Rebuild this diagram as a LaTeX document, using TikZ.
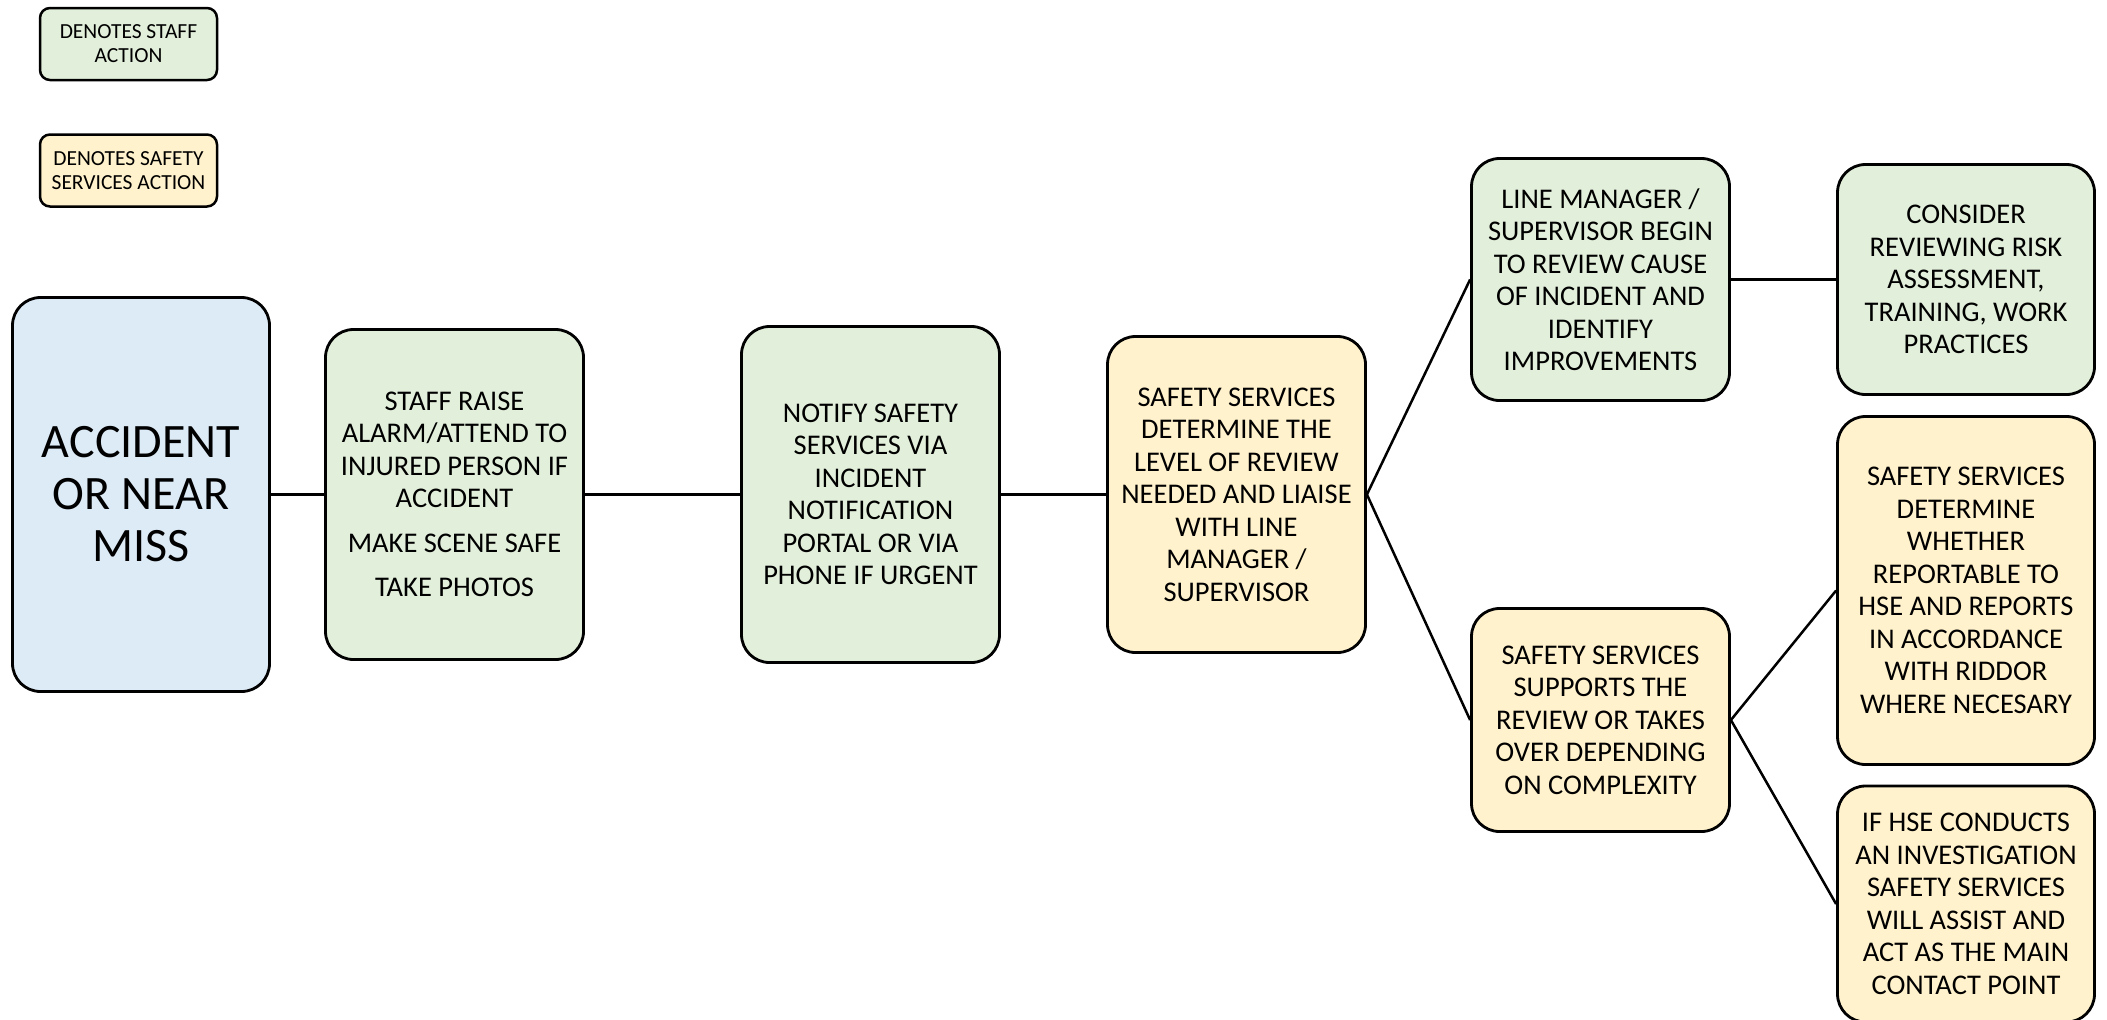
\documentclass[tikz,border=0pt]{standalone}
\usepackage{fontspec}
\setmainfont{Carlito}
\definecolor{gfill}{HTML}{E2EFDA}
\definecolor{yfill}{HTML}{FFF2CC}
\definecolor{bfill}{HTML}{DDEBF7}
\tikzset{
  box/.style={draw=black, line width=2.8pt, rounded corners=28pt, align=center, inner sep=0pt,
    font=\fontsize{28.5}{32.5}\selectfont},
  staffbox/.style={box, fill=gfill},
  safebox/.style={box, fill=yfill},
  legbox/.style={draw=black, line width=2.5pt, rounded corners=10pt, align=center, inner sep=0pt,
    font=\fontsize{21.5}{24}\selectfont},
  conn/.style={draw=black, line width=2.5pt}
}
\begin{document}
\begin{tikzpicture}[x=1pt,y=-1pt]
\useasboundingbox (0,0) rectangle (2107,1020);
\node[legbox, fill=gfill, minimum width=177pt, minimum height=72pt] (leg1) at (128.5,44) {DENOTES STAFF\\ACTION};
\node[legbox, fill=yfill, minimum width=177pt, minimum height=72pt] (leg2) at (128.5,170.5) {DENOTES SAFETY\\SERVICES ACTION};

\node[box, fill=bfill, minimum width=257pt, minimum height=394pt, font=\fontsize{48}{52}\selectfont] (acc) at (141,494.5) {ACCIDENT\\OR NEAR\\MISS};
\node[staffbox, minimum width=258pt, minimum height=330pt] (staff) at (454.5,494.5)
  {STAFF RAISE\\ALARM/ATTEND TO\\INJURED PERSON IF\\ACCIDENT\\[12pt]MAKE SCENE SAFE\\[12pt]TAKE PHOTOS};
\node[staffbox, minimum width=258pt, minimum height=336pt] (notify) at (870.5,494.5)
  {NOTIFY SAFETY\\SERVICES VIA\\INCIDENT\\NOTIFICATION\\PORTAL OR VIA\\PHONE IF URGENT};
\node[safebox, minimum width=258pt, minimum height=316pt] (det) at (1236.5,494.5)
  {SAFETY SERVICES\\DETERMINE THE\\LEVEL OF REVIEW\\NEEDED AND LIAISE\\WITH LINE\\MANAGER /\\SUPERVISOR};
\node[staffbox, minimum width=258pt, minimum height=242pt] (line) at (1600.5,279.5)
  {LINE MANAGER /\\SUPERVISOR BEGIN\\TO REVIEW CAUSE\\OF INCIDENT AND\\IDENTIFY\\IMPROVEMENTS};
\node[staffbox, minimum width=257pt, minimum height=230pt] (cons) at (1966,279.5)
  {CONSIDER\\REVIEWING RISK\\ASSESSMENT,\\TRAINING, WORK\\PRACTICES};
\node[safebox, minimum width=258pt, minimum height=223pt] (supp) at (1600.5,720)
  {SAFETY SERVICES\\SUPPORTS THE\\REVIEW OR TAKES\\OVER DEPENDING\\ON COMPLEXITY};
\node[safebox, minimum width=257pt, minimum height=348pt] (whet) at (1966,590.5)
  {SAFETY SERVICES\\DETERMINE\\WHETHER\\REPORTABLE TO\\HSE AND REPORTS\\IN ACCORDANCE\\WITH RIDDOR\\WHERE NECESARY};
\node[safebox, minimum width=257pt, minimum height=236pt] (ifhse) at (1966,904)
  {IF HSE CONDUCTS\\AN INVESTIGATION\\SAFETY SERVICES\\WILL ASSIST AND\\ACT AS THE MAIN\\CONTACT POINT};

\draw[conn] (acc.east) -- (staff.west);
\draw[conn] (staff.east) -- (notify.west);
\draw[conn] (notify.east) -- (det.west);
\draw[conn] (det.east) -- (line.west);
\draw[conn] (det.east) -- (supp.west);
\draw[conn] (line.east) -- (cons.west);
\draw[conn] (supp.east) -- (whet.west);
\draw[conn] (supp.east) -- (ifhse.west);
\end{tikzpicture}
\end{document}
